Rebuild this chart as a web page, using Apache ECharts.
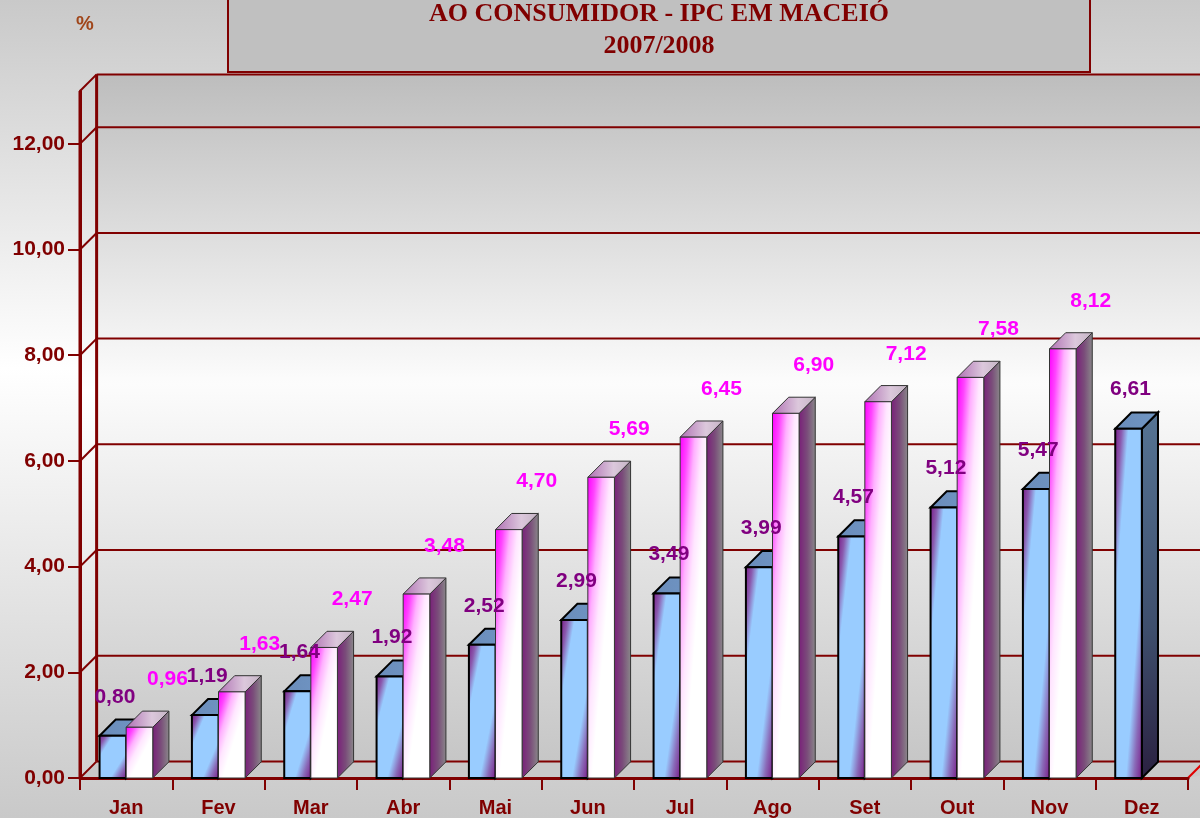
<!DOCTYPE html>
<html>
<head>
<meta charset="utf-8">
<script src="https://cdn.jsdelivr.net/npm/echarts@6/dist/echarts.min.js"></script>
<style>
html,body{margin:0;padding:0;background:#fff;}
#chart{width:1200px;height:818px;}
</style>
</head>
<body>
<div id="chart"></div>
<script>
const months = ['Jan','Fev','Mar','Abr','Mai','Jun','Jul','Ago','Set','Out','Nov','Dez'];
const ipc2007 = [0.80,1.19,1.64,1.92,2.52,2.99,3.49,3.99,4.57,5.12,5.47,6.61];
const ipc2008 = [0.96,1.63,2.47,3.48,4.70,5.69,6.45,6.90,7.12,7.58,8.12,null];
const yTicks = [0,2,4,6,8,10,12];
const yMax = 13;
const titleLines = ['AO CONSUMIDOR - IPC EM MACEIÓ','2007/2008'];
const unitLabel = '%';

const DARKRED = '#800000';
const fmt = v => v.toFixed(2).replace('.', ',');
const G = echarts.graphic;
const lin = (x0,y0,x1,y1,stops) => new G.LinearGradient(x0,y0,x1,y1,stops.map(s=>({offset:s[0],color:s[1]})));
// diagonal gradient whose value is (x/w + y/h)/2 over the box
function diag(x, y, w, h, stops){
  const a = 0.5/w, b = 0.5/h, L = a*a + b*b;
  return new G.LinearGradient(x, y, x + a/L, y + b/L, stops.map(s=>({offset:s[0],color:s[1]})), true);
}

const chart = echarts.init(document.getElementById('chart'), null, {renderer:'canvas'});

function depth(api){ return api.size([1,0])[0]*0.18; }

function renderWalls(params, api){
  const cs = params.coordSys;
  const D = depth(api);
  const gx = cs.x, gy = cs.y, gw = cs.width, gh = cs.height;
  const yb = gy + gh;
  const ytop = api.coord([0, yMax])[1];
  const children = [];
  children.push({type:'rect', z2:0, shape:{x:gx+D, y:ytop-D, width:gw+60, height:(yb-ytop)},
    style:{fill: lin(0,0,0,1,[[0,'#BDBDBD'],[0.45,'#FCFCFC'],[1,'#C6C6C6']])}});
  children.push({type:'polygon', z2:0, shape:{points:[[gx,ytop],[gx+D,ytop-D],[gx+D,yb-D],[gx,yb]]}, 
    style:{fill: lin(0,0,0,1,[[0,'#CDCDCD'],[0.45,'#FFFFFF'],[1,'#D2D2D2']])}});
  children.push({type:'polygon', z2:0, shape:{points:[[gx,yb],[gx+D,yb-D],[gx+gw+D+60,yb-D],[gx+gw,yb]]}, style:{fill:'#C9C9C9'}});
  yTicks.concat([yMax]).forEach(v=>{
    const y = api.coord([0, v])[1];
    children.push({type:'line', z2:5, shape:{x1:gx, y1:y, x2:gx+D, y2:y-D}, style:{stroke:DARKRED, lineWidth:2}});
    children.push({type:'line', z2:5, shape:{x1:gx+D, y1:y-D, x2:gx+gw+D+60, y2:y-D}, style:{stroke:DARKRED, lineWidth: 2}});
  });
  children.push({type:'line', z2:5, shape:{x1:gx+D, y1:ytop-D, x2:gx+D, y2:yb-D}, style:{stroke:DARKRED, lineWidth:3}});
  children.push({type:'line', z2:5, shape:{x1:gx+gw, y1:yb, x2:gx+gw+D, y2:yb-D}, style:{stroke:'#E00000', lineWidth:2}});
  children.push({type:'line', z2:5, shape:{x1:gx, y1:ytop, x2:gx, y2:yb}, style:{stroke:DARKRED, lineWidth:3}});
  return {type:'group', children};
}

function makeBarRenderer(kind){
  return function(params, api){
    const v = api.value(1);
    if (v == null || isNaN(v)) return null;
    const i = api.value(0);
    const base = api.coord([i, 0]);
    const top = api.coord([i, v]);
    const band = api.size([1,0])[0];
    const w = band*0.288;
    const D = band*0.175;
    const cx = base[0];
    const x0 = kind === 'a' ? cx - w : cx;
    const x1 = x0 + w;
    const yb = base[1], yt = top[1];
    const h = Math.max(yb - yt, 1);
    const zb = kind === 'a' ? 1 : 2;
    let frontFill, topFill, sideFill, stroke, lw, labelColor, offX, offY;
    if (kind === 'a'){
      frontFill = diag(x0, yt, w, h, [[0,'#7A1E8A'],[0.12,'#8A5AAE'],[0.25,'#99CCFF'],[0.7,'#99CCFF'],[0.85,'#8A6AB8'],[1,'#7A1E8A']]);
      topFill = lin(0,0,1,0,[[0,'#6A8CBA'],[1,'#7096C4']]);
      sideFill = lin(0,0,1,1,[[0,'#567494'],[0.6,'#3E4E6C'],[1,'#2A2040']]);
      stroke = '#000'; lw = 2; labelColor = '#800080'; offX = 2; offY = 39;
    } else {
      frontFill = diag(x0, yt, w, h, [[0,'#FF00FF'],[0.14,'#FF44FF'],[0.28,'#FFB0FF'],[0.42,'#FFE6FF'],[0.58,'#FFFFFF'],[1,'#FFFFFF']]);
      topFill = lin(0,0,1,0,[[0,'#B070B4'],[0.6,'#DCC8DC'],[1,'#C4B4C4']]);
      sideFill = lin(0,0,1,0,[[0,'#7A1E7A'],[0.5,'#7A4C7A'],[1,'#8A8A8A']]);
      stroke = '#333'; lw = 1; labelColor = '#FF00FF'; offX = 28; offY = 48;
    }
    return {type:'group', children:[
      {type:'polygon', z2:zb, shape:{points:[[x1,yt],[x1+D,yt-D],[x1+D,yb-D],[x1,yb]]}, style:{fill:sideFill, stroke:stroke, lineWidth:lw}},
      {type:'polygon', z2:zb, shape:{points:[[x0,yt],[x0+D,yt-D],[x1+D,yt-D],[x1,yt]]}, style:{fill:topFill, stroke:stroke, lineWidth:lw}},
      {type:'rect', z2:zb, shape:{x:x0, y:yt, width:w, height:yb-yt}, style:{fill:frontFill, stroke:stroke, lineWidth:lw}},
      {type:'text', z2:20, style:{text:fmt(v), x:x0 + w/2 + offX, y: yt - offY, fill:labelColor,
        font:'bold 21px "Liberation Sans", Arial, sans-serif', align:'center', verticalAlign:'middle'}}
    ]};
  };
}

const option = {
  animation:false,
  graphic:[
    {type:'rect', z:-10, shape:{x:0,y:0,width:1200,height:818},
      style:{fill: lin(0,0,0,1,[[0,'#C9C9C9'],[0.45,'#FFFFFF'],[1,'#C9C9C9']])}},
    {type:'rect', z:20, shape:{x:228,y:-4,width:862,height:76},
      style:{fill:'#C0C0C0', stroke:DARKRED, lineWidth:2}},
    {type:'text', z:21, style:{text:titleLines[0], x:659, y:14, fill:DARKRED, align:'center', verticalAlign:'middle',
      font:'bold 26px "Liberation Serif", "Times New Roman", serif'}},
    {type:'text', z:21, style:{text:titleLines[1], x:659, y:46, fill:DARKRED, align:'center', verticalAlign:'middle',
      font:'bold 26px "Liberation Serif", "Times New Roman", serif'}},
    {type:'text', z:21, style:{text:unitLabel, x:85, y:24, fill:'#A0461A', align:'center', verticalAlign:'middle',
      font:'bold 20px "Liberation Sans", Arial, sans-serif'}}
  ],
  grid:{left:80, right:12, top:91, bottom:40, containLabel:false},
  xAxis:{
    type:'category', data:months, boundaryGap:true, z:5,
    axisLine:{show:true, lineStyle:{color:DARKRED, width:3}},
    axisTick:{show:true, length:12, lineStyle:{color:DARKRED, width:2}},
    axisLabel:{color:DARKRED, fontWeight:'bold', fontSize:20, fontFamily:'"Liberation Sans", Arial, sans-serif', margin:20},
    splitLine:{show:false}
  },
  yAxis:{
    type:'value', min:0, max:yMax, interval:2, z:5,
    axisLine:{show:true, lineStyle:{color:DARKRED, width:3}},
    axisTick:{show:true, length:12, customValues:yTicks, lineStyle:{color:DARKRED, width:2}},
    axisLabel:{color:DARKRED, fontWeight:'bold', fontSize:21, fontFamily:'"Liberation Sans", Arial, sans-serif', margin:15,
      customValues:yTicks, formatter: v => fmt(v)},
    splitLine:{show:false}
  },
  series:[
    {type:'custom', name:'walls', z:1, silent:true, renderItem:renderWalls, data:[[0,0]], clip:false},
    {type:'custom', name:'2007', z:6, renderItem:makeBarRenderer('a'), data:months.map((m,i)=>[i, ipc2007[i]]), clip:false},
    {type:'custom', name:'2008', z:6, renderItem:makeBarRenderer('b'), data:months.map((m,i)=>[i, ipc2008[i]]), clip:false}
  ]
};
chart.setOption(option);
</script>
</body>
</html>
